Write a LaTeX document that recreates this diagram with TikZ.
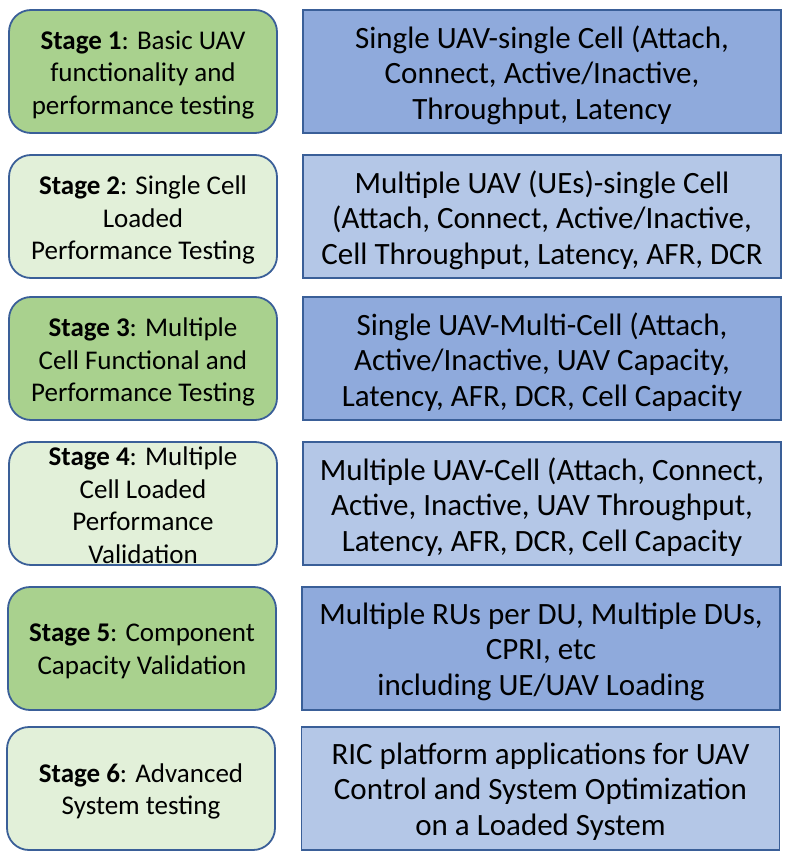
\documentclass[tikz,border=0pt]{standalone}
\usepackage{fontspec}
\setmainfont{Carlito}
\definecolor{gdark}{HTML}{A9D18E}
\definecolor{glight}{HTML}{E2F0D9}
\definecolor{bdark}{HTML}{8FAADC}
\definecolor{blight}{HTML}{B4C7E7}
\definecolor{edge}{HTML}{3A5F98}
\begin{document}
\begin{tikzpicture}[x=1pt,y=-1pt,
  stagebox/.style={draw=edge,line width=1.8pt,rounded corners=22pt,minimum width=268pt,minimum height=123pt,inner sep=0pt},
  descbox/.style={draw=edge,line width=1.8pt,minimum width=478pt,minimum height=123pt,inner sep=0pt},
  stagetext/.style={align=center,inner sep=0pt,font=\fontsize{27}{32.5}\selectfont},
  desctext/.style={align=center,inner sep=0pt,font=\fontsize{31}{35.5}\selectfont}]
\useasboundingbox (0,0) rectangle (789,858);
\node[stagebox,fill=gdark] (s1) at (143,71.5) {};
\node[descbox,fill=bdark] (d1) at (542,71.5) {};
\node[stagebox,fill=glight] (s2) at (143,216.5) {};
\node[descbox,fill=blight] (d2) at (542,216.5) {};
\node[stagebox,fill=gdark] (s3) at (143,358.5) {};
\node[descbox,fill=bdark] (d3) at (542,358.5) {};
\node[stagebox,fill=glight] (s4) at (143,503.5) {};
\node[descbox,fill=blight] (d4) at (542,503.5) {};
\node[stagebox,fill=gdark] (s5) at (142,648.5) {};
\node[descbox,fill=bdark] (d5) at (541,648.5) {};
\node[stagebox,fill=glight] (s6) at (141,788.5) {};
\node[descbox,fill=blight] (d6) at (540.5,788.5) {};
\node[stagetext] (s1t) at ([yshift=-3.5pt]s1.center) {\textbf{Stage 1}: Basic UAV\\functionality and\\performance testing};
\node[desctext] (d1t) at ([yshift=-3.5pt]d1.center) {Single UAV-single Cell (Attach,\\Connect, Active/Inactive,\\Throughput, Latency};
\node[stagetext] (s2t) at ([yshift=-3.5pt]s2.center) {\textbf{Stage 2}: Single Cell\\Loaded\\Performance Testing};
\node[desctext] (d2t) at ([yshift=-3.5pt]d2.center) {Multiple UAV (UEs)-single Cell\\(Attach, Connect, Active/Inactive,\\Cell Throughput, Latency, AFR, DCR};
\node[stagetext] (s3t) at ([yshift=-3.5pt]s3.center) {\textbf{Stage 3}: Multiple\\Cell Functional and\\Performance Testing};
\node[desctext] (d3t) at ([yshift=-3.5pt]d3.center) {Single UAV-Multi-Cell (Attach,\\Active/Inactive, UAV Capacity,\\Latency, AFR, DCR, Cell Capacity};
\node[stagetext] (s4t) at ([yshift=-1.5pt]s4.center) {\textbf{Stage 4}: Multiple\\Cell Loaded\\Performance\\Validation};
\node[desctext] (d4t) at ([yshift=-3.5pt]d4.center) {Multiple UAV-Cell (Attach, Connect,\\Active, Inactive, UAV Throughput,\\Latency, AFR, DCR, Cell Capacity};
\node[stagetext] (s5t) at ([yshift=-3pt]s5.center) {\textbf{Stage 5}: Component\\Capacity Validation};
\node[desctext] (d5t) at ([yshift=-3pt]d5.center) {Multiple RUs per DU, Multiple DUs,\\CPRI, etc\\including UE/UAV Loading};
\node[stagetext] (s6t) at ([yshift=-3pt]s6.center) {\textbf{Stage 6}: Advanced\\System testing};
\node[desctext] (d6t) at ([yshift=-3pt]d6.center) {RIC platform applications for UAV\\Control and System Optimization\\on a Loaded System};
\end{tikzpicture}
\end{document}
